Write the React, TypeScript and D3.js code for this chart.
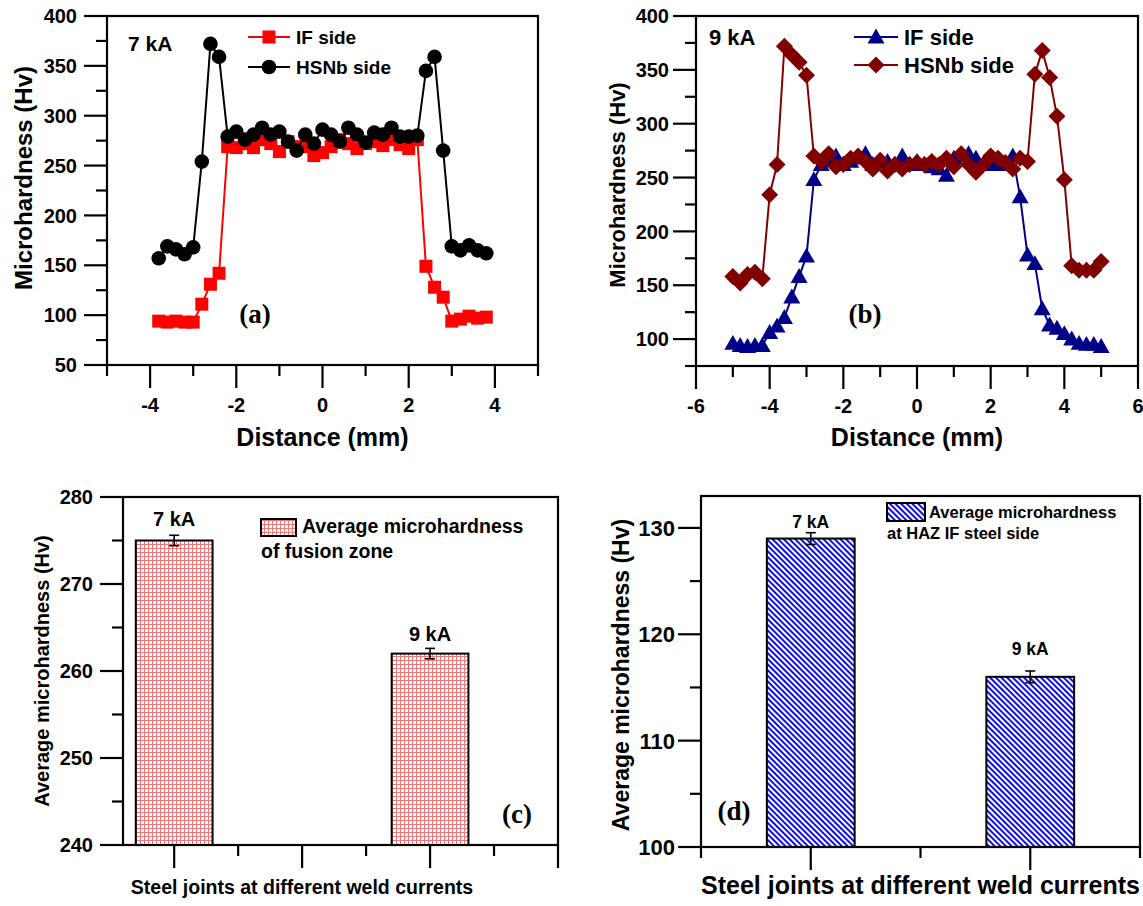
import React from 'react';
import * as d3 from 'd3';

const SANS = "'Liberation Sans', Arial, Helvetica, sans-serif";
const SERIF = "'Liberation Serif', 'Times New Roman', serif";

// ---------- Panel (a): 7 kA ----------
const A_DIST = [-3.8, -3.6, -3.4, -3.2, -3.0, -2.8, -2.6, -2.4, -2.2, -2.0, -1.8, -1.6, -1.4, -1.2, -1.0, -0.8, -0.6, -0.4, -0.2, 0, 0.2, 0.4, 0.6, 0.8, 1.0, 1.2, 1.4, 1.6, 1.8, 2.0, 2.2, 2.4, 2.6, 2.8, 3.0, 3.2, 3.4, 3.6, 3.8];
const A_IF = [94, 93, 94, 93, 93, 111, 131, 142, 269, 268, 272, 268, 276, 272, 264, 274, 269, 269, 260, 263, 269, 276, 272, 267, 272, 274, 270, 276, 271, 267, 276, 149, 128, 118, 94, 96, 99, 97, 98];
const A_HSNB = [157, 169, 166, 161, 168, 254, 372, 359, 279, 284, 276, 281, 288, 281, 284, 274, 265, 281, 272, 286, 281, 274, 288, 281, 273, 283, 281, 288, 279, 279, 280, 345, 359, 265, 169, 165, 170, 165, 162];
const A_Y_MAJOR = [50, 100, 150, 200, 250, 300, 350, 400];
const A_Y_MINOR = [75, 125, 175, 225, 275, 325, 375];
const A_X_MAJOR = [-4, -2, 0, 2, 4];
const A_X_MINOR = [-5, -3, -1, 1, 3, 5];

// ---------- Panel (b): 9 kA ----------
const B_DIST = [-5.0, -4.8, -4.6, -4.4, -4.2, -4.0, -3.8, -3.6, -3.4, -3.2, -3.0, -2.8, -2.6, -2.4, -2.2, -2.0, -1.8, -1.6, -1.4, -1.2, -1.0, -0.8, -0.6, -0.4, -0.2, 0, 0.2, 0.4, 0.6, 0.8, 1.0, 1.2, 1.4, 1.6, 1.8, 2.0, 2.2, 2.4, 2.6, 2.8, 3.0, 3.2, 3.4, 3.6, 3.8, 4.0, 4.2, 4.4, 4.6, 4.8, 5.0];
const B_IF = [96, 94, 93, 94, 94, 106, 112, 120, 139, 158, 177, 248, 262, 266, 270, 262, 265, 268, 272, 262, 264, 265, 262, 270, 262, 265, 262, 260, 258, 252, 268, 270, 272, 268, 262, 262, 263, 262, 270, 232, 178, 170, 128, 113, 110, 105, 100, 96, 95, 95, 93];
const B_HSNB = [158, 152, 160, 162, 156, 234, 262, 372, 364, 357, 345, 270, 265, 272, 260, 262, 268, 270, 265, 258, 266, 256, 262, 258, 262, 264, 262, 265, 262, 268, 260, 272, 262, 255, 262, 270, 268, 264, 258, 268, 265, 346, 368, 343, 307, 248, 168, 164, 164, 164, 172];
const B_Y_MAJOR = [100, 150, 200, 250, 300, 350, 400];
const B_Y_MINOR = [75, 125, 175, 225, 275, 325, 375];
const B_X_MAJOR = [-6, -4, -2, 0, 2, 4, 6];
const B_X_MINOR = [-5, -3, -1, 1, 3, 5];

// ---------- Panel (c): fusion zone ----------
const C_LABELS = ['7 kA', '9 kA'];
const C_POS = [1, 3];
const C_VALUES = [275, 262];
const C_ERR = [0.6, 0.6];
const C_Y_MAJOR = [240, 250, 260, 270, 280];
const C_Y_MINOR = [245, 255, 265, 275];
const C_X_MAJOR = [1, 2, 3, 4];
const C_X_MINOR = [1.5, 2.5, 3.5];

// ---------- Panel (d): HAZ IF steel side ----------
const D_LABELS = ['7 kA', '9 kA'];
const D_POS = [1, 2];
const D_VALUES = [129, 116];
const D_ERR = [0.55, 0.55];
const D_Y_MAJOR = [100, 110, 120, 130];
const D_Y_MINOR = [105, 115, 125];
const D_X_MAJOR = [1, 2];
const D_X_MINOR = [0.5, 1.5, 2.5];

const AX = 2.2; // axis stroke
const MAJ = 23;
const MIN = 11;

type Box = { x0: number; x1: number; y0: number; y1: number };

function Frame({ box, x, y, yMajor, yMinor, xMajor, xMinor, yLabelGap, yFont, xLabels, xLabelY, xFont }: any) {
  return (
    <g>
      <rect x={box.x0} y={box.y0} width={box.x1 - box.x0} height={box.y1 - box.y0} fill="none" stroke="#000" strokeWidth={AX} />
      {yMajor.map((v: number) => (
        <g key={'ym' + v}>
          <line x1={box.x0 - MAJ} x2={box.x0} y1={y(v)} y2={y(v)} stroke="#000" strokeWidth={AX} />
          <text x={box.x0 - yLabelGap} y={y(v)} dy="0.36em" textAnchor="end" fontFamily={SANS} fontWeight="bold" fontSize={yFont}>{v}</text>
        </g>
      ))}
      {yMinor.map((v: number) => (
        <line key={'yn' + v} x1={box.x0 - MIN} x2={box.x0} y1={y(v)} y2={y(v)} stroke="#000" strokeWidth={AX} />
      ))}
      {xMajor.map((v: number) => (
        <g key={'xm' + v}>
          <line x1={x(v)} x2={x(v)} y1={box.y1} y2={box.y1 + MAJ} stroke="#000" strokeWidth={AX} />
          {xLabels && (
            <text x={x(v)} y={xLabelY} textAnchor="middle" fontFamily={SANS} fontWeight="bold" fontSize={xFont}>{v}</text>
          )}
        </g>
      ))}
      {xMinor.map((v: number) => (
        <line key={'xn' + v} x1={x(v)} x2={x(v)} y1={box.y1} y2={box.y1 + MIN} stroke="#000" strokeWidth={AX} />
      ))}
    </g>
  );
}

function Marker({ shape, cx, cy, color }: { shape: string; cx: number; cy: number; color: string }) {
  if (shape === 'square') return <rect x={cx - 6.5} y={cy - 6.5} width={13} height={13} fill={color} />;
  if (shape === 'circle') return <circle cx={cx} cy={cy} r={7.3} fill={color} />;
  if (shape === 'triangle') {
    const s = 8.5;
    return <path d={`M${cx},${cy - s}L${cx + s},${cy + s * 0.75}L${cx - s},${cy + s * 0.75}Z`} fill={color} />;
  }
  const s = 8.5;
  return <path d={`M${cx},${cy - s}L${cx + s},${cy}L${cx},${cy + s}L${cx - s},${cy}Z`} fill={color} />;
}

function Series({ xs, ys, x, y, color, shape, width }: any) {
  const line = d3.line<number>().x((_, i) => x(xs[i])).y((d) => y(d));
  return (
    <g>
      <path d={line(ys) || ''} fill="none" stroke={color} strokeWidth={width} />
      {ys.map((v: number, i: number) => (
        <Marker key={i} shape={shape} cx={x(xs[i])} cy={y(v)} color={color} />
      ))}
    </g>
  );
}

function LegendRow({ x1, x2, yy, color, shape, label, font }: any) {
  return (
    <g>
      <line x1={x1} x2={x2} y1={yy} y2={yy} stroke={color} strokeWidth={2} />
      <Marker shape={shape} cx={(x1 + x2) / 2} cy={yy} color={color} />
      <text x={x2 + 6} y={yy} dy="0.36em" fontFamily={SANS} fontWeight="bold" fontSize={font}>{label}</text>
    </g>
  );
}

export default function App() {
  // ----- (a)
  const boxA: Box = { x0: 107, x1: 538, y0: 16, y1: 365 };
  const xA = d3.scaleLinear().domain([-5, 5]).range([boxA.x0, boxA.x1]);
  const yA = d3.scaleLinear().domain([50, 400]).range([boxA.y1, boxA.y0]);
  // ----- (b)
  const boxB: Box = { x0: 696, x1: 1138, y0: 16, y1: 366 };
  const xB = d3.scaleLinear().domain([-6, 6]).range([boxB.x0, boxB.x1]);
  const yB = d3.scaleLinear().domain([75, 400]).range([boxB.y1, boxB.y0]);
  // ----- (c)
  const boxC: Box = { x0: 123, x1: 558, y0: 497, y1: 845 };
  const xC = d3.scaleLinear().domain([0.6, 4.0]).range([boxC.x0, boxC.x1]);
  const yC = d3.scaleLinear().domain([240, 280]).range([boxC.y1, boxC.y0]);
  // ----- (d)
  const boxD: Box = { x0: 701, x1: 1140, y0: 496, y1: 847 };
  const xD = d3.scaleLinear().domain([0.5, 2.5]).range([boxD.x0, boxD.x1]);
  const yD = d3.scaleLinear().domain([100, 133]).range([boxD.y1, boxD.y0]);

  const cBarW = xC(0.6) - xC(0);
  const dBarW = xD(0.4) - xD(0);
  const cGap = [9, 7];
  const dGap = [5, 16];

  return (
    <svg width={1143} height={906} style={{ position: 'absolute', left: 0, top: 0, background: '#fff' }}>
      <defs>
        <pattern id="pinkGrid" patternUnits="userSpaceOnUse" width={4} height={4}>
          <rect width={4} height={4} fill="#fff" />
          <path d="M0,0.5H4M0.5,0V4" stroke="#f07878" strokeWidth={1} />
        </pattern>
        <pattern id="blueHatch" patternUnits="userSpaceOnUse" width={4} height={4} patternTransform="rotate(-45)">
          <rect width={4} height={4} fill="#fff" />
          <rect width={2} height={4} fill="#1010e0" />
        </pattern>
      </defs>
      <rect width={1143} height={906} fill="#fff" />

      {/* ===== (a) ===== */}
      <Frame box={boxA} x={xA} y={yA} yMajor={A_Y_MAJOR} yMinor={A_Y_MINOR} xMajor={A_X_MAJOR} xMinor={A_X_MINOR}
        yLabelGap={30} yFont={20} xLabels xLabelY={412} xFont={20} />
      <Series xs={A_DIST} ys={A_IF} x={xA} y={yA} color="#ff0000" shape="square" width={2} />
      <Series xs={A_DIST} ys={A_HSNB} x={xA} y={yA} color="#000000" shape="circle" width={2} />
      <text x={128} y={43} dy="0.36em" fontFamily={SANS} fontWeight="bold" fontSize={21}>7 kA</text>
      <LegendRow x1={248} x2={290} yy={37} color="#ff0000" shape="square" label="IF side" font={19} />
      <LegendRow x1={248} x2={290} yy={67} color="#000000" shape="circle" label="HSNb side" font={19} />
      <text x={255} y={313} dy="0.36em" textAnchor="middle" fontFamily={SERIF} fontWeight="bold" fontSize={27}>(a)</text>
      <text transform="translate(23,178) rotate(-90)" dy="0.36em" textAnchor="middle" fontFamily={SANS} fontWeight="bold" fontSize={24}>Microhardness (Hv)</text>
      <text x={(boxA.x0 + boxA.x1) / 2} y={446} textAnchor="middle" fontFamily={SANS} fontWeight="bold" fontSize={25}>Distance (mm)</text>

      {/* ===== (b) ===== */}
      <Frame box={boxB} x={xB} y={yB} yMajor={B_Y_MAJOR} yMinor={B_Y_MINOR} xMajor={B_X_MAJOR} xMinor={B_X_MINOR}
        yLabelGap={27} yFont={20} xLabels xLabelY={413} xFont={20} />
      <Series xs={B_DIST} ys={B_IF} x={xB} y={yB} color="#000088" shape="triangle" width={2} />
      <Series xs={B_DIST} ys={B_HSNB} x={xB} y={yB} color="#800000" shape="diamond" width={2} />
      <text x={709} y={37} dy="0.36em" fontFamily={SANS} fontWeight="bold" fontSize={22}>9 kA</text>
      <LegendRow x1={854} x2={898} yy={37} color="#000088" shape="triangle" label="IF side" font={22} />
      <LegendRow x1={854} x2={898} yy={65} color="#800000" shape="diamond" label="HSNb side" font={22} />
      <text x={865} y={313} dy="0.36em" textAnchor="middle" fontFamily={SERIF} fontWeight="bold" fontSize={27}>(b)</text>
      <text transform="translate(617,185) rotate(-90)" dy="0.36em" textAnchor="middle" fontFamily={SANS} fontWeight="bold" fontSize={22}>Microhardness (Hv)</text>
      <text x={(boxB.x0 + boxB.x1) / 2} y={446} textAnchor="middle" fontFamily={SANS} fontWeight="bold" fontSize={25}>Distance (mm)</text>

      {/* ===== (c) ===== */}
      {C_VALUES.map((v, i) => (
        <g key={'c' + i}>
          <rect x={xC(C_POS[i]) - cBarW / 2} y={yC(v)} width={cBarW} height={yC(240) - yC(v)} fill="url(#pinkGrid)" stroke="#000" strokeWidth={2} />
          <line x1={xC(C_POS[i])} x2={xC(C_POS[i])} y1={yC(v - C_ERR[i])} y2={yC(v + C_ERR[i])} stroke="#000" strokeWidth={1.6} />
          <line x1={xC(C_POS[i]) - 5} x2={xC(C_POS[i]) + 5} y1={yC(v + C_ERR[i])} y2={yC(v + C_ERR[i])} stroke="#000" strokeWidth={1.6} />
          <line x1={xC(C_POS[i]) - 5} x2={xC(C_POS[i]) + 5} y1={yC(v - C_ERR[i])} y2={yC(v - C_ERR[i])} stroke="#000" strokeWidth={1.6} />
          <text x={xC(C_POS[i])} y={yC(v + C_ERR[i]) - cGap[i]} textAnchor="middle" fontFamily={SANS} fontWeight="bold" fontSize={20}>{C_LABELS[i]}</text>
        </g>
      ))}
      <Frame box={boxC} x={xC} y={yC} yMajor={C_Y_MAJOR} yMinor={C_Y_MINOR} xMajor={C_X_MAJOR} xMinor={C_X_MINOR}
        yLabelGap={30} yFont={20} xLabels={false} />
      <rect x={261} y={519} width={35} height={17} fill="url(#pinkGrid)" stroke="#000" strokeWidth={2} />
      <text x={302} y={533} fontFamily={SANS} fontWeight="bold" fontSize={19.5}>Average microhardness</text>
      <text x={261} y={558} fontFamily={SANS} fontWeight="bold" fontSize={19.5}>of fusion zone</text>
      <text x={517} y={813} dy="0.36em" textAnchor="middle" fontFamily={SERIF} fontWeight="bold" fontSize={27}>(c)</text>
      <text transform="translate(42,671) rotate(-90)" dy="0.36em" textAnchor="middle" fontFamily={SANS} fontWeight="bold" fontSize={20}>Average microhardness (Hv)</text>
      <text x={302} y={894} textAnchor="middle" fontFamily={SANS} fontWeight="bold" fontSize={19.5}>Steel joints at different weld currents</text>

      {/* ===== (d) ===== */}
      {D_VALUES.map((v, i) => (
        <g key={'d' + i}>
          <rect x={xD(D_POS[i]) - dBarW / 2} y={yD(v)} width={dBarW} height={yD(100) - yD(v)} fill="url(#blueHatch)" stroke="#000" strokeWidth={2} />
          <line x1={xD(D_POS[i])} x2={xD(D_POS[i])} y1={yD(v - D_ERR[i])} y2={yD(v + D_ERR[i])} stroke="#000" strokeWidth={1.6} />
          <line x1={xD(D_POS[i]) - 5} x2={xD(D_POS[i]) + 5} y1={yD(v + D_ERR[i])} y2={yD(v + D_ERR[i])} stroke="#000" strokeWidth={1.6} />
          <line x1={xD(D_POS[i]) - 5} x2={xD(D_POS[i]) + 5} y1={yD(v - D_ERR[i])} y2={yD(v - D_ERR[i])} stroke="#000" strokeWidth={1.6} />
          <text x={xD(D_POS[i])} y={yD(v + D_ERR[i]) - dGap[i]} textAnchor="middle" fontFamily={SANS} fontWeight="bold" fontSize={17.5}>{D_LABELS[i]}</text>
        </g>
      ))}
      <Frame box={boxD} x={xD} y={yD} yMajor={D_Y_MAJOR} yMinor={D_Y_MINOR} xMajor={D_X_MAJOR} xMinor={D_X_MINOR}
        yLabelGap={26} yFont={22} xLabels={false} />
      <rect x={887} y={503} width={38} height={18} fill="url(#blueHatch)" stroke="#000" strokeWidth={2} />
      <text x={929} y={518} fontFamily={SANS} fontWeight="bold" fontSize={16.5}>Average microhardness</text>
      <text x={887} y={539} fontFamily={SANS} fontWeight="bold" fontSize={16.5}>at HAZ IF steel side</text>
      <text x={734} y={810} dy="0.36em" textAnchor="middle" fontFamily={SERIF} fontWeight="bold" fontSize={27}>(d)</text>
      <text transform="translate(621,675) rotate(-90)" dy="0.36em" textAnchor="middle" fontFamily={SANS} fontWeight="bold" fontSize={23}>Average microhardness (Hv)</text>
      <text x={(boxD.x0 + boxD.x1) / 2} y={894} textAnchor="middle" fontFamily={SANS} fontWeight="bold" fontSize={25}>Steel joints at different weld currents</text>
    </svg>
  );
}
